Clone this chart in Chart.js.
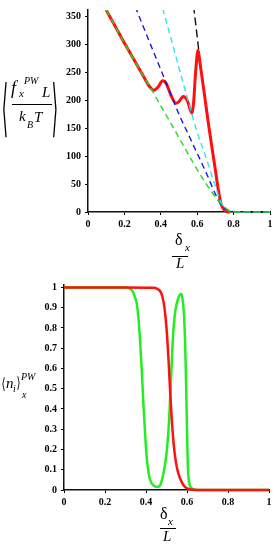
<!DOCTYPE html>
<html><head><meta charset="utf-8">
<script src="https://cdn.jsdelivr.net/npm/chart.js@4/dist/chart.umd.min.js"></script>
<style>
html,body{margin:0;padding:0;background:#fff;width:279px;height:550px;overflow:hidden;position:relative;}
canvas{position:absolute;left:0;}
.t{position:absolute;white-space:nowrap;line-height:1;color:#000;font-family:"Liberation Serif",serif;}
.i{font-style:italic;}
.br{font-family:"DejaVu Sans",sans-serif;transform-origin:50% 50%;}
.bar{position:absolute;height:1px;background:#000;}
</style></head><body>
<canvas id="c1" width="279" height="270" style="top:0;width:279px;height:270px"></canvas>
<canvas id="c2" width="279" height="280" style="top:270px;width:279px;height:280px"></canvas>

<!-- top y title -->
<span class="t br" style="left:1px;top:97px;font-size:20px;height:20px;line-height:20px;transform:scale(0.8,3.1)">⟨</span>
<span class="t i" style="left:11px;top:79px;font-size:18px">f</span>
<span class="t i" style="left:19px;top:88px;font-size:11px">x</span>
<span class="t i" style="left:24px;top:76px;font-size:10px">PW</span>
<span class="t i" style="left:42px;top:85px;font-size:15px">L</span>
<div class="bar" style="left:12px;top:104px;width:40px"></div>
<span class="t i" style="left:19px;top:109px;font-size:15px">k</span>
<span class="t i" style="left:27px;top:120px;font-size:10px">B</span>
<span class="t i" style="left:34px;top:110px;font-size:15px">T</span>
<span class="t br" style="left:51px;top:97px;font-size:20px;height:20px;line-height:20px;transform:scale(0.8,3.1)">⟩</span>

<!-- top x title -->
<span class="t" style="left:175px;top:232px;font-size:16px">δ</span>
<span class="t i" style="left:185px;top:242px;font-size:11px">x</span>
<div class="bar" style="left:172px;top:256px;width:16px"></div>
<span class="t i" style="left:176px;top:256px;font-size:15px">L</span>

<!-- bottom y title -->
<span class="t br" style="left:1px;top:377px;font-size:13px;height:14px;line-height:14px;transform:scale(0.8,1.2)">⟨</span>
<span class="t i" style="left:6px;top:376px;font-size:15px">n</span>
<span class="t i" style="left:13px;top:384px;font-size:10px">i</span>
<span class="t br" style="left:16px;top:376px;font-size:13px;height:14px;line-height:14px;transform:scale(0.8,1.2)">⟩</span>
<span class="t i" style="left:21px;top:372px;font-size:10px">PW</span>
<span class="t i" style="left:22px;top:390px;font-size:10px">x</span>

<!-- bottom x title -->
<span class="t" style="left:160px;top:506px;font-size:16px">δ</span>
<span class="t i" style="left:168px;top:516px;font-size:11px">x</span>
<div class="bar" style="left:160px;top:528px;width:16px"></div>
<span class="t i" style="left:163px;top:529px;font-size:15px">L</span>

<script>
// ---- tick labels ----
const xTicks = [0, 0.2, 0.4, 0.6, 0.8, 1];
const yTicksTop = [0, 50, 100, 150, 200, 250, 300, 350];
const yTicksBottom = [0, 0.1, 0.2, 0.3, 0.4, 0.5, 0.6, 0.7, 0.8, 0.9, 1];

// ---- top chart series ----
const redTopX = [0.1, 0.2, 0.3, 0.34, 0.36, 0.385, 0.41, 0.43, 0.455, 0.483, 0.5, 0.523, 0.545, 0.56, 0.572, 0.58, 0.59, 0.6, 0.605, 0.612, 0.625, 0.64, 0.66, 0.68, 0.7, 0.715, 0.73, 0.745, 0.76, 0.78];
const redTopY = [362, 303, 246, 224, 218, 224, 235, 230, 210, 195, 198, 207, 200, 185, 177, 195, 245, 283, 290, 275, 245, 210, 162, 118, 75, 42, 16, 5, 1, 0];

const greenTopX = [0.1, 0.2, 0.3, 0.35, 0.4, 0.45, 0.5, 0.55, 0.6, 0.65, 0.7, 0.73, 0.76, 0.78, 0.8, 0.85, 1];
const greenTopY = [362, 303, 246, 219, 190, 162, 133, 104, 76, 50, 27, 15, 6, 2, 0.5, 0, 0];

const blueTopX = [0.26, 0.3, 0.35, 0.4, 0.45, 0.5, 0.55, 0.6, 0.65, 0.7, 0.73, 0.76, 0.8, 0.85, 1];
const blueTopY = [368, 335, 295, 255, 215, 175, 140, 105, 70, 32, 13, 5, 1, 0, 0];

const cyanTopX = [0.41, 0.45, 0.5, 0.55, 0.6, 0.65, 0.7, 0.73, 0.76, 0.8, 0.85, 1];
const cyanTopY = [365, 318, 258, 200, 143, 96, 46, 18, 5, 1, 0, 0];

const blackTopX = [0.58, 0.605, 0.625, 0.64, 0.66, 0.68, 0.7, 0.715, 0.73, 0.745, 0.76, 0.8, 0.85, 1];
const blackTopY = [370, 300, 245, 210, 162, 118, 75, 42, 16, 5, 1, 0.3, 0, 0];

// ---- bottom chart series ----
const redBotX = [0, 0.3, 0.44, 0.46, 0.47, 0.48, 0.49, 0.5, 0.51, 0.517, 0.525, 0.533, 0.54, 0.55, 0.56, 0.574, 0.586, 0.6, 0.62, 0.65, 1];
const redBotY = [1, 1, 0.998, 0.99, 0.98, 0.955, 0.9, 0.8, 0.64, 0.5, 0.36, 0.25, 0.18, 0.115, 0.075, 0.04, 0.02, 0.008, 0.002, 0, 0];

const greenBotX = [0, 0.3, 0.32, 0.335, 0.345, 0.355, 0.362, 0.37, 0.38, 0.387, 0.395, 0.403, 0.412, 0.42, 0.44, 0.455, 0.465, 0.475, 0.487, 0.5, 0.51, 0.52, 0.527, 0.533, 0.541, 0.55, 0.56, 0.571, 0.578, 0.585, 0.59, 0.594, 0.598, 0.602, 0.606, 0.612, 0.623, 0.64, 1];
const greenBotY = [1, 1, 0.995, 0.98, 0.955, 0.92, 0.86, 0.756, 0.58, 0.43, 0.29, 0.164, 0.09, 0.05, 0.02, 0.016, 0.018, 0.04, 0.09, 0.18, 0.3, 0.5, 0.66, 0.78, 0.87, 0.92, 0.955, 0.967, 0.945, 0.87, 0.75, 0.6, 0.4, 0.2, 0.08, 0.03, 0.008, 0, 0];

function pts(xs, ys) { return xs.map((x, i) => ({ x: x, y: ys[i] })); }

const tickFont = { family: '"Liberation Serif", serif', size: 10, weight: 'bold' };
const clip = { left: 5, top: 0, right: 5, bottom: 5 };

function lineDs(data, color, width, dash) {
  return {
    data: data, borderColor: color, borderWidth: width, borderDash: dash || [],
    pointRadius: 0, fill: false, cubicInterpolationMode: 'monotone', clip: clip
  };
}

function axes(yTicks, yMax, yWidth, xHeight) {
  const common = {
    grid: { drawOnChartArea: false, drawTicks: true, tickLength: 3, tickColor: '#000' },
    border: { display: true, color: '#111', width: 1.5 },
  };
  return {
    x: Object.assign({}, common, {
      type: 'linear', min: 0, max: 1,
      afterBuildTicks: s => { s.ticks = xTicks.map(v => ({ value: v })); },
      afterFit: s => { s.height = xHeight; },
      ticks: { font: tickFont, color: '#000', padding: 3, maxRotation: 0, autoSkip: false, callback: v => String(v) }
    }),
    y: Object.assign({}, common, {
      type: 'linear', min: 0, max: yMax,
      afterBuildTicks: s => { s.ticks = yTicks.map(v => ({ value: v })); },
      afterFit: s => { s.width = yWidth; },
      ticks: { font: tickFont, color: '#000', padding: 4, autoSkip: false, callback: v => String(v) }
    })
  };
}

const baseOpts = {
  responsive: false, animation: false, devicePixelRatio: 1,
  plugins: { legend: { display: false }, tooltip: { enabled: false } },
  elements: { line: { borderCapStyle: 'butt' } }
};

new Chart(document.getElementById('c1'), {
  type: 'line',
  data: {
    datasets: [
      lineDs(pts(greenTopX, greenTopY), '#22dd22', 1.4, [6, 4]),
      lineDs(pts(blueTopX, blueTopY), '#1a1adc', 1.4, [6, 4]),
      lineDs(pts(cyanTopX, cyanTopY), '#2ee6ee', 1.4, [6, 4]),
      lineDs(pts(redTopX, redTopY), '#ff1010', 3, []),
      lineDs(pts(blackTopX, blackTopY), '#111111', 1.4, [8, 4])
    ]
  },
  options: Object.assign({}, baseOpts, {
    layout: { padding: { left: 0, right: 9, top: 5, bottom: 0 } },
    scales: axes(yTicksTop, 362, 88, 58)
  })
});

new Chart(document.getElementById('c2'), {
  type: 'line',
  data: {
    datasets: [
      lineDs(pts(redBotX, redBotY), '#ff1010', 2.5, []),
      lineDs(pts(greenBotX, greenBotY), '#22ee22', 2.5, [])
    ]
  },
  options: Object.assign({}, baseOpts, {
    layout: { padding: { left: 0, right: 10, top: 15, bottom: 0 } },
    scales: axes(yTicksBottom, 1.012, 64, 60)
  })
});
</script>
</body></html>
